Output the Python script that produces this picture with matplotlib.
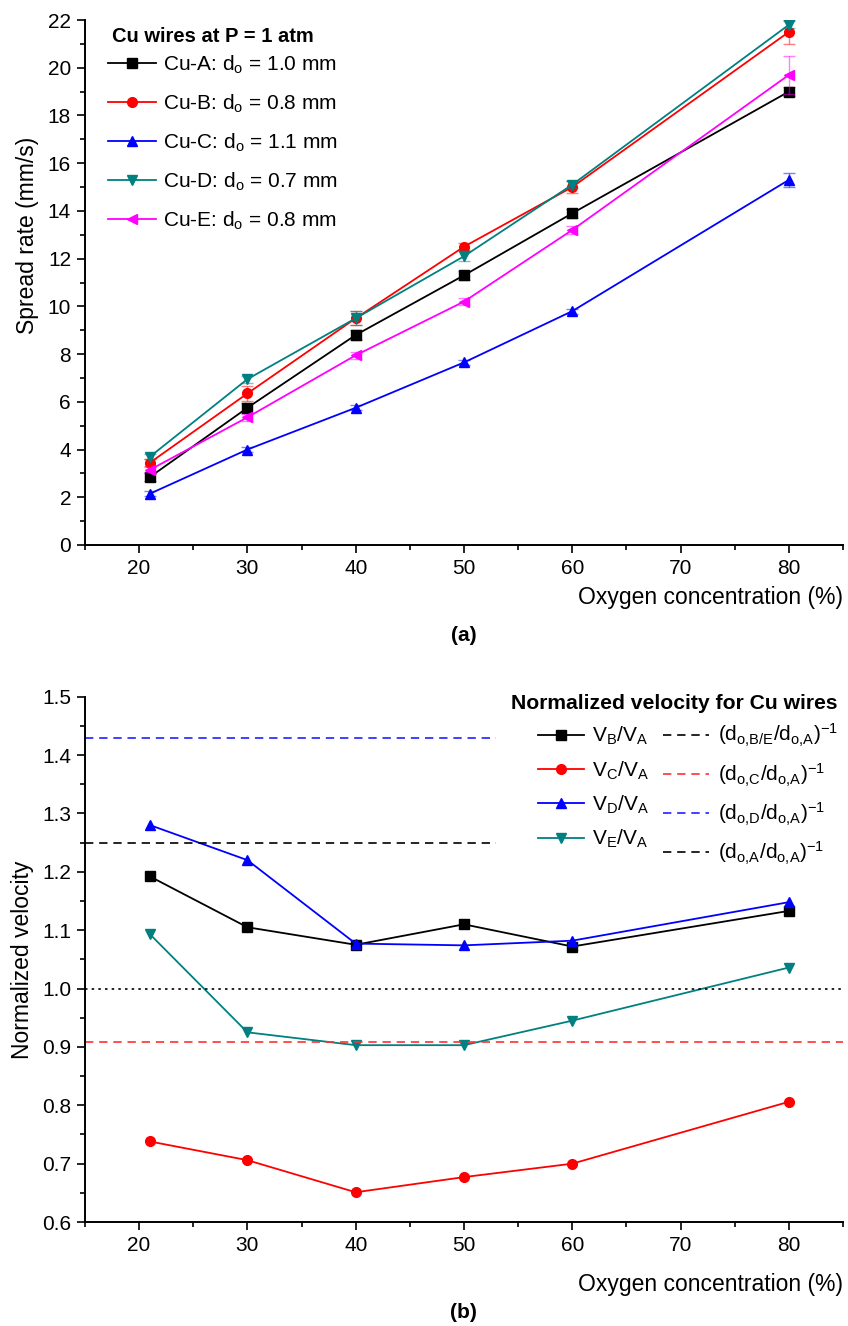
import matplotlib
matplotlib.use("Agg")
import matplotlib.pyplot as plt
from matplotlib.lines import Line2D
from matplotlib.ticker import MultipleLocator, FormatStrFormatter

plt.rcParams['font.family'] = ['Liberation Sans', 'DejaVu Sans']
plt.rcParams['mathtext.fontset'] = 'custom'
plt.rcParams['mathtext.rm'] = 'Liberation Sans'
plt.rcParams['mathtext.it'] = 'Liberation Sans:italic'
plt.rcParams['mathtext.bf'] = 'Liberation Sans:bold'

# Oxygen concentration (%)
oxygen = [21, 30, 40, 50, 60, 80]

# Spread rate (mm/s) and error bars, panel (a)
cu_a = [2.85, 5.75, 8.8, 11.3, 13.9, 19.0]
cu_b = [3.45, 6.35, 9.5, 12.5, 15.0, 21.5]
cu_c = [2.15, 4.0, 5.75, 7.65, 9.8, 15.3]
cu_d = [3.7, 6.95, 9.5, 12.1, 15.1, 21.8]
cu_e = [3.15, 5.35, 7.95, 10.2, 13.2, 19.7]
err_a = [0.15, 0.2, 0.2, 0.2, 0.2, 0.2]
err_b = [0.15, 0.3, 0.3, 0.15, 0.25, 0.5]
err_c = [0.1, 0.1, 0.1, 0.1, 0.1, 0.3]
err_d = [0.1, 0.15, 0.3, 0.2, 0.15, 0.15]
err_e = [0.1, 0.15, 0.15, 0.15, 0.15, 0.8]

# Normalized velocity, panel (b)
v_ba = [1.192, 1.105, 1.075, 1.110, 1.072, 1.133]
v_ca = [0.738, 0.706, 0.651, 0.677, 0.700, 0.806]
v_da = [1.280, 1.220, 1.077, 1.074, 1.082, 1.148]
v_ea = [1.093, 0.925, 0.903, 0.903, 0.945, 1.036]

# inverse diameter ratios (d_o,X / d_o,A)^-1
ratio_be = 1.25
ratio_c = 0.909
ratio_d = 1.43
ratio_a = 1.0
short_end = 53  # short reference lines stop before the legend

teal = '#008080'

fig = plt.figure(figsize=(8.48, 13.26), dpi=100)
ax1 = fig.add_axes([0.1002, 0.5890, 0.8939, 0.3959])
ax2 = fig.add_axes([0.1002, 0.0784, 0.8939, 0.3962])

def style_axis(ax):
    ax.spines['top'].set_visible(False)
    ax.spines['right'].set_visible(False)
    for s in ['left', 'bottom']:
        ax.spines[s].set_linewidth(1.4)
    ax.tick_params(which='major', direction='out', length=6, width=1.2,
                   labelsize=15, pad=4)
    ax.tick_params(which='minor', direction='out', length=3.5, width=1.2)
    ax.set_xlim(15, 85)
    ax.xaxis.set_major_locator(MultipleLocator(10))
    ax.xaxis.set_minor_locator(MultipleLocator(5))

# ---- panel (a) ----
series_a = [
    (cu_a, err_a, 'black', 's', r'Cu-A: d$_\mathregular{o}$ = 1.0 mm'),
    (cu_b, err_b, 'red', 'o', r'Cu-B: d$_\mathregular{o}$ = 0.8 mm'),
    (cu_c, err_c, 'blue', '^', r'Cu-C: d$_\mathregular{o}$ = 1.1 mm'),
    (cu_d, err_d, teal, 'v', r'Cu-D: d$_\mathregular{o}$ = 0.7 mm'),
    (cu_e, err_e, 'magenta', '<', r'Cu-E: d$_\mathregular{o}$ = 0.8 mm'),
]
handles_a = []
for vals, errs, col, mk, lab in series_a:
    ax1.errorbar(oxygen, vals, yerr=errs, fmt='none', ecolor=col, alpha=0.5,
                 elinewidth=1, capsize=4, capthick=1)
    h, = ax1.plot(oxygen, vals, color=col, marker=mk, markersize=7,
                  linewidth=1.3, label=lab)
    handles_a.append(h)

style_axis(ax1)
ax1.set_ylim(0, 22)
ax1.yaxis.set_major_locator(MultipleLocator(2))
ax1.yaxis.set_minor_locator(MultipleLocator(1))
ax1.set_ylabel('Spread rate (mm/s)', fontsize=16.5, labelpad=6, y=0.59)
ax1.set_xlabel('Oxygen concentration (%)', fontsize=16.5, loc='right', labelpad=6)
ax1.legend(handles=handles_a, loc='upper left', bbox_to_anchor=(0.02, 0.952),
           frameon=False, fontsize=15, handlelength=2.3, handletextpad=0.3,
           labelspacing=0.8, borderaxespad=0)
ax1.text(0.0356, 0.9695, 'Cu wires at P = 1 atm', transform=ax1.transAxes,
         ha='left', va='center', fontsize=14.5, fontweight='bold')

# ---- panel (b) ----
series_b = [
    (v_ba, 'black', 's', r'V$_\mathregular{B}$/V$_\mathregular{A}$'),
    (v_ca, 'red', 'o', r'V$_\mathregular{C}$/V$_\mathregular{A}$'),
    (v_da, 'blue', '^', r'V$_\mathregular{D}$/V$_\mathregular{A}$'),
    (v_ea, teal, 'v', r'V$_\mathregular{E}$/V$_\mathregular{A}$'),
]
handles_b = []
for vals, col, mk, lab in series_b:
    h, = ax2.plot(oxygen, vals, color=col, marker=mk, markersize=7,
                  linewidth=1.3, label=lab)
    handles_b.append(h)

dash = (0, (5, 3.5))
r1, = ax2.plot([15, short_end], [ratio_be, ratio_be], color='black', lw=1.2, ls=dash)
r2, = ax2.plot([15, 85], [ratio_c, ratio_c], color='#ff3030', lw=1.2, ls=dash)
r3, = ax2.plot([15, short_end], [ratio_d, ratio_d], color='#2020ff', lw=1.2, ls=dash)
ax2.plot([15, 85], [ratio_a, ratio_a], color='black', lw=1.2, ls=(0, (1.5, 2.5)))
r4 = Line2D([], [], color='black', lw=1.2, ls=dash)

ref_labels = [r'(d$_\mathregular{o{,}B/E}$/d$_\mathregular{o{,}A}$)$^\mathregular{-1}$',
              r'(d$_\mathregular{o{,}C}$/d$_\mathregular{o{,}A}$)$^\mathregular{-1}$',
              r'(d$_\mathregular{o{,}D}$/d$_\mathregular{o{,}A}$)$^\mathregular{-1}$',
              r'(d$_\mathregular{o{,}A}$/d$_\mathregular{o{,}A}$)$^\mathregular{-1}$']
labels_b = [h.get_label() for h in handles_b] + ref_labels

style_axis(ax2)
ax2.set_ylim(0.6, 1.5)
ax2.yaxis.set_major_locator(MultipleLocator(0.1))
ax2.yaxis.set_minor_locator(MultipleLocator(0.05))
ax2.yaxis.set_major_formatter(FormatStrFormatter('%.1f'))
ax2.set_ylabel('Normalized velocity', fontsize=16.5, labelpad=6)
ax2.set_xlabel('Oxygen concentration (%)', fontsize=16.5, loc='right', labelpad=13)
ax2.legend(handles=handles_b + [r1, r2, r3, r4], labels=labels_b, ncol=2,
           loc='upper right', bbox_to_anchor=(1.004, 0.967), frameon=False,
           fontsize=15, handlelength=2.2, handletextpad=0.4,
           labelspacing=0.58, columnspacing=0.7, borderaxespad=0)
ax2.text(0.778, 0.987, 'Normalized velocity for Cu wires', transform=ax2.transAxes,
         ha='center', va='center', fontsize=15.2, fontweight='bold')

fig.text(0.547, 1 - 635 / 1326, '(a)', ha='center', va='center',
         fontsize=15, fontweight='bold')
fig.text(0.547, 1 - 1312 / 1326, '(b)', ha='center', va='center',
         fontsize=15, fontweight='bold')

fig.savefig('out.png', dpi=100)
